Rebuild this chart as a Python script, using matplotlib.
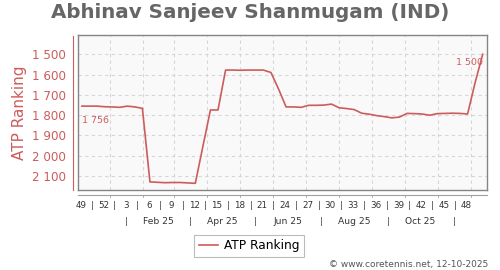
import datetime as dt
import numpy as np
import matplotlib
matplotlib.use('Agg')
import matplotlib.pyplot as plt
import matplotlib.dates as mdates
from matplotlib.lines import Line2D

# weekly ranking data
start = dt.date(2024, 12, 6)
ranks = [1756, 1756, 1756, 1759, 1760, 1762, 1756, 1760, 1767,
         2130, 2132, 2134, 2133, 2133, 2135, 2137, 1955, 1775, 1775,
         1578, 1578, 1579, 1578, 1578, 1578, 1590, 1671, 1760, 1760,
         1762, 1752, 1752, 1751, 1746, 1764, 1768, 1773, 1791, 1796,
         1803, 1808, 1814, 1810, 1792, 1793, 1795, 1801, 1793, 1792,
         1791, 1792, 1795, 1640, 1500]
dates = [start + dt.timedelta(days=7 * i) for i in range(len(ranks))]

week_labels = [(2024, 49), (2024, 52)] + [(2025, w) for w in range(3, 49, 3)]
month_labels = ['Feb 25', 'Apr 25', 'Jun 25', 'Aug 25', 'Oct 25']
month_label_dates = [dt.date(2025, m, 15) for m in (2, 4, 6, 8, 10)]
month_sep_dates = [dt.date(2025, m, 16) for m in (1, 3, 5, 7, 9, 11)]
yticks = [1500, 1600, 1700, 1800, 1900, 2000, 2100]

red = '#cc5c5c'
W, H = 500, 270

fig = plt.figure(figsize=(5, 2.7), dpi=100)
ax = fig.add_axes([78 / W, 1 - 190 / H, 409 / W, 155 / H])
ax.set_facecolor('#f9f9f9')

x = mdates.date2num(dates)
ax.plot(x, ranks, color=red, linewidth=1.2, label='ATP Ranking')

ax.set_xlim(mdates.date2num(dt.date(2024, 12, 2)) + 0.4,
            mdates.date2num(dt.date(2025, 12, 16)))
ax.set_ylim(2170, 1405)

ax.set_yticks(yticks)
ax.set_yticklabels([f'{v:,}'.replace(',', ' ') for v in yticks])
ax.tick_params(axis='y', length=0, pad=9, labelsize=8.6, labelcolor=red)
month_starts = [dt.date(2025, m, 1) for m in range(1, 13)]
ax.set_xticks(mdates.date2num(month_starts))
ax.tick_params(axis='x', length=0, labelbottom=False)
ax.grid(True, linestyle=(0, (3, 3)), color='#d6d6d6', linewidth=0.8)
for s in ax.spines.values():
    s.set_color('#858585')
    s.set_linewidth(1.0)

ax.set_ylabel('ATP Ranking', fontsize=11, color=red)
ax.yaxis.set_label_coords(-0.125, 0.5)

# value labels at first and last point
fmt = lambda v: f'{v:,}'.replace(',', ' ')
ax.annotate(fmt(ranks[0]), (x[0], ranks[0]), xytext=(0, -10), textcoords='offset points',
            ha='left', va='center', fontsize=6.8, color=red)
ax.annotate(fmt(ranks[-1]), (x[-1], ranks[-1]), xytext=(0, -6), textcoords='offset points',
            ha='right', va='center', fontsize=6.8, color=red)

# red y-axis line
fig.add_artist(Line2D([73 / W, 73 / W], [1 - 190 / H, 1 - 36 / H], color=red, linewidth=0.8))

# bottom axis: line with small month ticks
trans = ax.get_xaxis_transform()
y_line = -5 / 155
ax.plot([0, 1], [y_line, y_line], transform=ax.transAxes, color='#a0a0a0', lw=0.8, clip_on=False)
for d in month_starts:
    ax.plot([mdates.date2num(d)] * 2, [y_line, y_line - 2 / 155], transform=trans,
            color='#a0a0a0', lw=0.6, clip_on=False)

# week labels with separators
wk_x = [mdates.date2num(dt.date.fromisocalendar(y, w, 4)) for y, w in week_labels]
for (y, w), xv in zip(week_labels, wk_x):
    ax.text(xv, -16 / 155, str(w), transform=trans, ha='center', va='center',
            fontsize=6.3, color='#333333')
for a, b in zip(wk_x[:-1], wk_x[1:]):
    ax.text((a + b) / 2, -16 / 155, '|', transform=trans, ha='center', va='center',
            fontsize=6.3, color='#444444')

# month labels with separators
for lab, d in zip(month_labels, month_label_dates):
    ax.text(mdates.date2num(d), -32 / 155, lab, transform=trans, ha='center', va='center',
            fontsize=6.6, color='#333333')
for d in month_sep_dates:
    ax.text(mdates.date2num(d), -32 / 155, '|', transform=trans, ha='center', va='center',
            fontsize=6.6, color='#444444')

fig.text(0.5, 1 - 13 / H, 'Abhinav Sanjeev Shanmugam (IND)', ha='center', va='center',
         fontsize=14.3, fontweight='bold', color='#666666')

leg = fig.legend(loc='center', bbox_to_anchor=(249 / W, 1 - 246 / H), fontsize=8.7,
                 frameon=True, fancybox=False, handlelength=1.6, borderpad=0.35,
                 handletextpad=0.5)
leg.get_frame().set_edgecolor('#aaaaaa')
leg.get_frame().set_linewidth(0.8)

fig.text(488 / W, 1 - 265 / H, '\u00a9 www.coretennis.net, 12-10-2025', ha='right',
         va='center', fontsize=6.5, color='#555555')

fig.savefig('out.png', dpi=100)
